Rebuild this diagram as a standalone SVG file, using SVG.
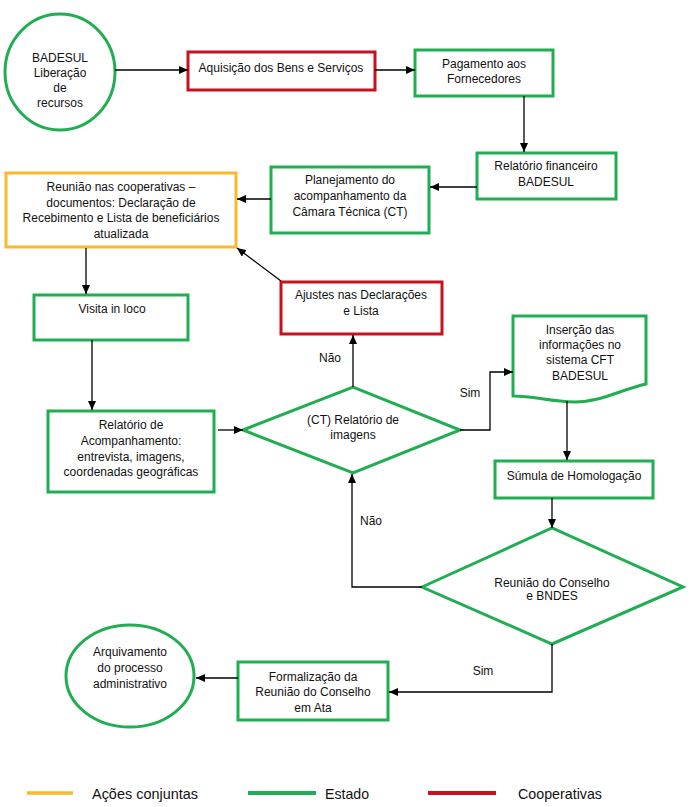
<svg xmlns="http://www.w3.org/2000/svg" width="691" height="807" viewBox="0 0 691 807">
<defs>
<marker id="ah" markerUnits="userSpaceOnUse" markerWidth="10" markerHeight="8" refX="9" refY="4" orient="auto">
<path d="M0,0 L9,4 L0,8 z" fill="#000"/>
</marker>
<style>
.g{fill:#fff;stroke:#21ad52;stroke-width:3}
.r{fill:#fff;stroke:#c8101e;stroke-width:3}
.o{fill:#fff;stroke:#f9b92d;stroke-width:3}
text{font-family:"Liberation Sans",Arial,sans-serif;font-size:12px;fill:#111;text-anchor:middle}
.c path{fill:none;stroke:#000;stroke-width:1.3;marker-end:url(#ah)}
.lg{font-size:14.3px;text-anchor:start}
</style>
</defs>
<rect width="691" height="807" fill="#fff"/>
<g id="n-badesul">
<ellipse class="g" cx="60" cy="72" rx="55" ry="58"/>
<text x="60" y="62">BADESUL</text>
<text x="60" y="77">Liberação</text>
<text x="60" y="92">de</text>
<text x="60" y="107">recursos</text>
</g>
<g id="n-aquisicao">
<rect class="r" x="188" y="52" width="187" height="38"/>
<text x="281" y="72">Aquisição dos Bens e Serviços</text>
</g>
<g id="n-pagamento">
<rect class="g" x="415" y="50" width="138" height="46"/>
<text x="484" y="68">Pagamento aos</text>
<text x="484" y="83">Fornecedores</text>
</g>
<g id="n-relfin">
<rect class="g" x="477" y="153" width="139" height="46"/>
<text x="546" y="170">Relatório financeiro</text>
<text x="546" y="186">BADESUL</text>
</g>
<g id="n-planejamento">
<rect class="g" x="271" y="167" width="158" height="66"/>
<text x="350" y="184">Planejamento do</text>
<text x="350" y="200">acompanhamento da</text>
<text x="350" y="216">Câmara Técnica (CT)</text>
</g>
<g id="n-reuniao">
<rect class="o" x="6" y="173" width="230" height="74"/>
<text x="121" y="191">Reunião nas cooperativas –</text>
<text x="121" y="207">documentos: Declaração de</text>
<text x="121" y="222">Recebimento e Lista de beneficiários</text>
<text x="121" y="238">atualizada</text>
</g>
<g id="n-visita">
<rect class="g" x="34" y="295" width="154" height="45"/>
<text x="112" y="313">Visita in loco</text>
</g>
<g id="n-ajustes">
<rect class="r" x="281" y="282" width="161" height="52"/>
<text x="361" y="299">Ajustes nas Declarações</text>
<text x="361" y="315">e Lista</text>
</g>
<g id="n-relacomp">
<rect class="g" x="48" y="411" width="166" height="81"/>
<text x="131" y="429">Relatório de</text>
<text x="131" y="445">Acompanhamento:</text>
<text x="131" y="461">entrevista, imagens,</text>
<text x="131" y="476">coordenadas geográficas</text>
</g>
<g id="n-ctrel">
<polygon class="g" points="243,430 353,387 460,430 353,473"/>
<text x="353" y="424">(CT) Relatório de</text>
<text x="353" y="439">imagens</text>
</g>
<g id="n-insercao">
<path class="g" d="M513,316 L646,316 L646,384 C620,390 600,402 575,402 C550,402 535,396 513,396 Z"/>
<text x="580" y="334">Inserção das</text>
<text x="580" y="349">informações no</text>
<text x="580" y="364">sistema CFT</text>
<text x="580" y="380">BADESUL</text>
</g>
<g id="n-sumula">
<rect class="g" x="495" y="461" width="158" height="37"/>
<text x="574" y="480">Súmula de Homologação</text>
</g>
<g id="n-conselho">
<polygon class="g" points="422,587 552,528 683,587 552,644"/>
<text x="552" y="587">Reunião do Conselho</text>
<text x="552" y="600">e BNDES</text>
</g>
<g id="n-formalizacao">
<rect class="g" x="238" y="662" width="150" height="58"/>
<text x="313" y="681">Formalização da</text>
<text x="313" y="696">Reunião do Conselho</text>
<text x="313" y="712">em Ata</text>
</g>
<g id="n-arquivamento">
<ellipse class="g" cx="130" cy="676" rx="64" ry="51"/>
<text x="130" y="656">Arquivamento</text>
<text x="130" y="672">do processo</text>
<text x="130" y="688">administrativo</text>
</g>
<g id="connectors" class="c">
<path d="M115,70 L188,70"/>
<path d="M375,70 L415,70"/>
<path d="M524,96 L524,152"/>
<path d="M477,187 L430,187"/>
<path d="M271,199 L237,199"/>
<path d="M86,248 L86,294"/>
<path d="M281,281 L237,248"/>
<path d="M92,340 L92,410"/>
<path d="M218,430 L243,430"/>
<path d="M353,387 L353,335"/>
<path d="M460,430 L490,430 L490,372 L513,372"/>
<path d="M567,401 L567,460"/>
<path d="M552,498 L552,528"/>
<path d="M422,587 L352,587 L352,474"/>
<path d="M552,644 L552,692 L389,692"/>
<path d="M238,678 L196,678"/>
</g>
<g id="labels">
<text x="330" y="362">Não</text>
<text x="470" y="397">Sim</text>
<text x="371" y="525">Não</text>
<text x="483" y="675">Sim</text>
</g>
<g id="legend">
<line x1="27" y1="793" x2="73" y2="793" stroke="#f9b92d" stroke-width="3.5"/>
<text class="lg" x="92" y="799" textLength="106" lengthAdjust="spacingAndGlyphs">Ações conjuntas</text>
<line x1="248" y1="793" x2="316" y2="793" stroke="#21ad52" stroke-width="4"/>
<text class="lg" x="325" y="799" textLength="44" lengthAdjust="spacingAndGlyphs">Estado</text>
<line x1="428" y1="793" x2="496" y2="793" stroke="#c8101e" stroke-width="4"/>
<text class="lg" x="518" y="799" textLength="84" lengthAdjust="spacingAndGlyphs">Cooperativas</text>
</g>
</svg>
